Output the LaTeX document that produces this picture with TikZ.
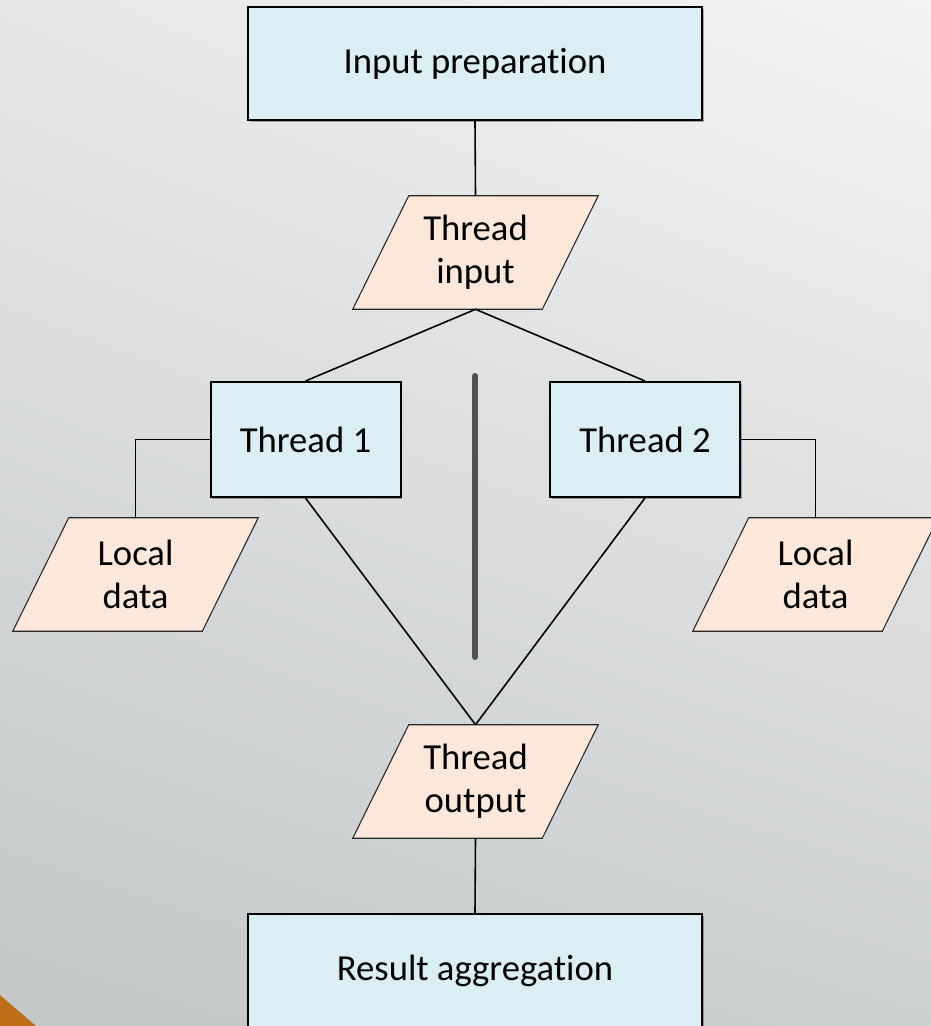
\documentclass[tikz,border=0pt]{standalone}
\usepackage{fontspec}
\setmainfont{Carlito}[Ligatures=NoCommon]
\usetikzlibrary{shadows,shadings,calc}
\definecolor{boxfill}{HTML}{DAEEF3}
\definecolor{datafill}{HTML}{FCE8DA}
\definecolor{accent}{HTML}{C06E15}
\definecolor{divider}{HTML}{505050}
\definecolor{bgTL}{HTML}{E6E7E8}
\definecolor{bgTR}{HTML}{F4F4F4}
\definecolor{bgBL}{HTML}{C3C7C8}
\definecolor{bgBR}{HTML}{CDD0D1}
\pgfdeclarelayer{backdrop}
\pgfdeclarelayer{shapes}
\pgfsetlayers{backdrop,shapes,main}
% slanted data frame drawn around a (borderless) data node
\newcommand\dataframeof[1]{%
  \path[dataframe] ($(#1.north west)+(56,0)$) -- (#1.north east)
    -- ($(#1.south east)+(-56,0)$) -- (#1.south west) -- cycle;}
\begin{document}
\begin{tikzpicture}[x=0.75pt,y=-0.75pt,
  every node/.style={font=\fontsize{27.5pt}{32.5pt}\selectfont, inner sep=0pt, align=center},
  procbox/.style={draw=black, line width=1.5pt, fill=boxfill,
    drop shadow={shadow xshift=1.2pt, shadow yshift=-1.2pt, opacity=0.3, fill=black}},
  widebox/.style={procbox, minimum width=340.5pt, minimum height=84.75pt},
  threadbox/.style={procbox, minimum width=142.5pt, minimum height=86.25pt},
  datanode/.style={minimum width=183.75pt, minimum height=84.75pt},
  dataframe/.style={draw=black!85, line width=0.8pt, fill=datafill},
  link/.style={draw=black, line width=1.2pt},
  divline/.style={draw=divider, line width=4.5pt, line cap=round}
]
\useasboundingbox (0,0) rectangle (931,1026);

% backdrop
\begin{pgfonlayer}{backdrop}
  \shade[upper left=bgTL, upper right=bgTR, lower left=bgBL, lower right=bgBR]
    (0,0) rectangle (931,1026);
  \fill[accent] (0,995) -- (36,1026) -- (0,1026) -- cycle;
\end{pgfonlayer}

% process boxes
\node[widebox] (prep) at (475,63.5) {Input preparation};
\node[threadbox] (t1) at (305.5,439.5) {Thread 1};
\node[threadbox] (t2) at (645,439.5) {Thread 2};
\node[widebox] (result) at (475,970.5) {Result aggregation};

% data nodes
\node[datanode] (tin) at (475.5,252.5) {Thread\\input};
\node[datanode] (ld1) at (135.5,574.5) {Local\\data};
\node[datanode] (ld2) at (815.5,574.5) {Local\\data};
\node[datanode] (tout) at (475.5,781.5) {Thread\\output};

\begin{pgfonlayer}{shapes}
  \dataframeof{tin}
  \dataframeof{ld1}
  \dataframeof{ld2}
  \dataframeof{tout}
\end{pgfonlayer}

% separator between the threads
\coordinate (sepTop) at (475,376);
\coordinate (sepBot) at (475,657);
\draw[divline] (sepTop) -- (sepBot);

% connectors
\draw[link] (prep.south) -- (tin.north);
\draw[link] (tin.south) -- (t1.north);
\draw[link] (tin.south) -- (t2.north);
\draw[link] (t1.west) -| (ld1.north);
\draw[link] (t2.east) -| (ld2.north);
\draw[link] (t1.south) -- (tout.north);
\draw[link] (t2.south) -- (tout.north);
\draw[link] (tout.south) -- (result.north);
\end{tikzpicture}
\end{document}
